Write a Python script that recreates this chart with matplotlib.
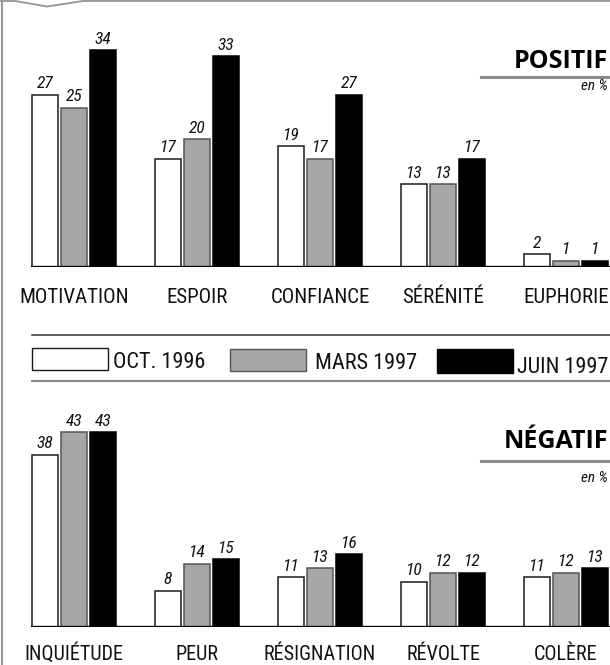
import matplotlib
matplotlib.use('Agg')
import matplotlib.pyplot as plt
import matplotlib.transforms as mtransforms
from matplotlib.patches import Rectangle
from matplotlib.lines import Line2D

# ---------------- data ----------------
pos_categories = ['MOTIVATION', 'ESPOIR', 'CONFIANCE', 'SÉRÉNITÉ', 'EUPHORIE']
pos_oct96 = [27, 17, 19, 13, 2]
pos_mars97 = [25, 20, 17, 13, 1]
pos_juin97 = [34, 33, 27, 17, 1]

neg_categories = ['INQUIÉTUDE', 'PEUR', 'RÉSIGNATION', 'RÉVOLTE', 'COLÈRE']
neg_oct96 = [38, 8, 11, 10, 11]
neg_mars97 = [43, 14, 13, 12, 12]
neg_juin97 = [43, 15, 16, 12, 13]

series_labels = ['OCT. 1996', 'MARS 1997', 'JUIN 1997']
panel_titles = ['POSITIF', 'NÉGATIF']
unit_label = 'en %'

# ---------------- style ----------------
W, H = 610, 665
NARROW = ['Roboto Condensed', 'Liberation Sans', 'DejaVu Sans']
BOLD = ['Open Sans', 'DejaVu Sans']
face = ['#ffffff', '#a6a6a6', '#000000']
edge = ['#1a1a1a', '#555555', '#000000']
TXT = '#111111'

fig = plt.figure(figsize=(W / 100, H / 100), dpi=100)
fig.patch.set_facecolor('white')


def fx(x):
    return x / W


def fy(y):
    return 1 - y / H


GROUP0 = 74.0      # px centre of first group
SPACING = 123.0    # px between groups
BAR_W = 26.0 / SPACING
STEP = 29.0 / SPACING
offsets = [-STEP, 0.0, STEP]


def panel(base_px, top_px, px_per_unit, cats, series, label_base_px, cat_size):
    ax = fig.add_axes([0, fy(base_px), 1, (base_px - top_px) / H])
    ax.set_xlim(-GROUP0 / SPACING, (W - GROUP0) / SPACING)
    ax.set_ylim(0, (base_px - top_px) / px_per_unit)
    ax.axis('off')
    xs = list(range(len(cats)))
    for k, vals in enumerate(series):
        pos = [x + offsets[k] for x in xs]
        ax.bar(pos, vals, width=BAR_W, color=face[k], edgecolor=edge[k],
               linewidth=1.1, zorder=2)
        for p, v in zip(pos, vals):
            ax.annotate(str(v), (p, v), xytext=(0, 4.5), textcoords='offset points',
                        ha='center', va='baseline', fontsize=12.5,
                        fontstyle='italic', family=NARROW, color=TXT,
                        annotation_clip=False)
    ax.axhline(0, xmin=32 / W, xmax=1, color='black', lw=2.4, zorder=3)
    trans = mtransforms.blended_transform_factory(ax.transData, fig.transFigure)
    for x, c in zip(xs, cats):
        ax.text(x, fy(label_base_px), c, transform=trans, ha='center',
                va='baseline', fontsize=cat_size, family=NARROW, color=TXT)
    return ax


panel(267, 0, 6.38, pos_categories, [pos_oct96, pos_mars97, pos_juin97], 303, 15)
panel(627, 400, 4.535, neg_categories, [neg_oct96, neg_mars97, neg_juin97], 660, 14.5)

# ---------------- panel titles ----------------
for title, base, line_y, unit_base in [(panel_titles[0], 68, 77, 90),
                                       (panel_titles[1], 448, 461, 482)]:
    fig.text(fx(608), fy(base), title, ha='right', va='baseline', fontsize=18,
             fontweight='bold', family=BOLD, color='black')
    fig.add_artist(Line2D([fx(481), fx(612)], [fy(line_y)] * 2,
                          transform=fig.transFigure, color='#8a8a8a', lw=2.2))
    fig.text(fx(608), fy(unit_base), unit_label, ha='right', va='baseline',
             fontsize=11, fontstyle='italic', family=NARROW, color=TXT)

# ---------------- legend ----------------
fig.add_artist(Line2D([fx(32), fx(612)], [fy(335)] * 2,
                      transform=fig.transFigure, color='#333333', lw=1.1))
fig.add_artist(Line2D([fx(32), fx(612)], [fy(381)] * 2,
                      transform=fig.transFigure, color='#888888', lw=1.5))
legend_boxes = [(32, 348, 370), (230, 349, 371), (437, 349, 373)]
legend_text = [(113, 368), (315, 369), (517, 373)]
for k in range(3):
    x0, y0, y1 = legend_boxes[k]
    fig.add_artist(Rectangle((fx(x0), fy(y1)), 76 / W, (y1 - y0) / H,
                             transform=fig.transFigure, facecolor=face[k],
                             edgecolor=edge[k], lw=1.0))
    tx, tb = legend_text[k]
    fig.text(fx(tx), fy(tb), series_labels[k], ha='left', va='baseline',
             fontsize=16, family=NARROW, color=TXT)

# ---------------- frame decoration ----------------
fig.add_artist(Line2D([fx(1.5), fx(1.5)], [0, 1], transform=fig.transFigure,
                      color='#9a9a9a', lw=1.5))
fig.add_artist(Line2D([0, fx(15), fx(47), fx(83), 1],
                      [fy(1), fy(1), fy(6.5), fy(1), fy(1)],
                      transform=fig.transFigure, color='#9a9a9a', lw=1.4))

fig.savefig('out.png', dpi=100, facecolor='white')
